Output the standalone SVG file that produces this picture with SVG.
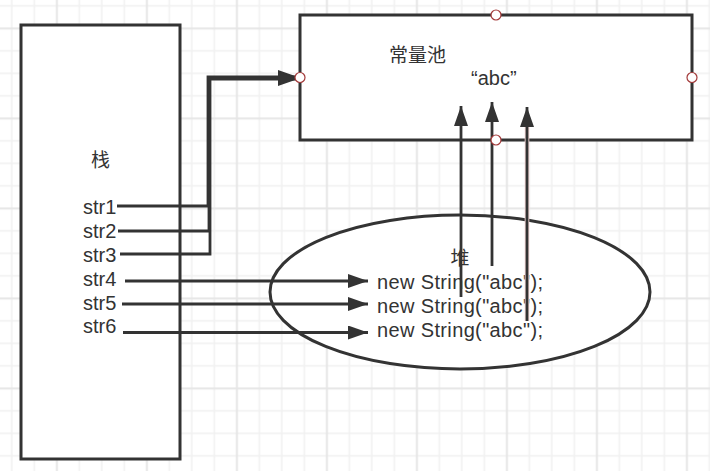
<svg xmlns="http://www.w3.org/2000/svg" width="710" height="471" viewBox="0 0 710 471">
  <defs>
    <pattern id="grid" patternUnits="userSpaceOnUse" x="-33.3" y="-61.7" width="90" height="90">
      <rect x="0" y="0" width="90" height="90" fill="#ffffff"/>
      <rect x="21.8" y="0" width="1.5" height="90" fill="#f1f1f1"/>
      <rect x="44.3" y="0" width="1.5" height="90" fill="#f1f1f1"/>
      <rect x="66.8" y="0" width="1.5" height="90" fill="#f1f1f1"/>
      <rect x="0" y="21.8" width="90" height="1.5" fill="#f1f1f1"/>
      <rect x="0" y="44.3" width="90" height="1.5" fill="#f1f1f1"/>
      <rect x="0" y="66.8" width="90" height="1.5" fill="#f1f1f1"/>
      <rect x="-0.8" y="0" width="2" height="90" fill="#e6e6e6"/>
      <rect x="0" y="-0.8" width="90" height="2" fill="#e6e6e6"/>
      <rect x="89.2" y="0" width="2" height="90" fill="#e6e6e6"/>
      <rect x="0" y="89.2" width="90" height="2" fill="#e6e6e6"/>
    </pattern>
    <marker id="arrow" viewBox="0 0 20 14" refX="20" refY="7" markerWidth="20" markerHeight="14" markerUnits="userSpaceOnUse" orient="auto">
      <path d="M0,0 L20,7 L0,14 Z" fill="#333333"/>
    </marker>
  </defs>
  <style>
    .box { fill: #ffffff; stroke: #333333; stroke-width: 3; }
    .edge { fill: none; stroke: #333333; stroke-width: 2.8; }
    .txt { font-family: "Liberation Sans", Arial, sans-serif; font-size: 20px; fill: #333333; }
    .cjk { font-family: "Noto Sans CJK SC", "Noto Sans", sans-serif; font-size: 19px; fill: #333333; }
    .port { fill: #ffffff; stroke: #a33a3a; stroke-width: 1.2; }
  </style>
  <rect x="0" y="0" width="710" height="471" fill="url(#grid)"/>

  <g id="stack">
    <rect class="box" x="21" y="25" width="159" height="434"/>
    <text class="cjk" x="100.5" y="167" text-anchor="middle">栈</text>
    <text class="txt" x="83" y="214">str1</text>
    <text class="txt" x="83" y="238">str2</text>
    <text class="txt" x="83" y="261.5">str3</text>
    <text class="txt" x="83" y="285.5">str4</text>
    <text class="txt" x="83" y="309.5">str5</text>
    <text class="txt" x="83" y="333">str6</text>
  </g>

  <g id="pool">
    <rect class="box" x="300" y="15" width="392" height="125"/>
    <text class="cjk" x="389" y="62">常量池</text>
    <text class="txt" x="471" y="85">“abc”</text>
  </g>

  <g id="heap">
    <ellipse class="box" cx="460" cy="292" rx="190" ry="77"/>
    <text class="cjk" x="460" y="265" text-anchor="middle">堆</text>
    <text class="txt" x="377" y="289" textLength="166" lengthAdjust="spacing">new String("abc");</text>
    <text class="txt" x="377" y="313" textLength="166" lengthAdjust="spacing">new String("abc");</text>
    <text class="txt" x="377" y="337" textLength="166" lengthAdjust="spacing">new String("abc");</text>
  </g>

  <g id="connectors">
    <path class="edge" d="M117,206 H208 V77 H298" marker-end="url(#arrow)"/>
    <path class="edge" d="M118,231 H209 V78 H298" marker-end="url(#arrow)"/>
    <path class="edge" d="M120,254 H210 V79 H298" marker-end="url(#arrow)"/>
    <path class="edge" d="M125,281 H368" marker-end="url(#arrow)"/>
    <path class="edge" d="M122,304 H368" marker-end="url(#arrow)"/>
    <path class="edge" d="M123,332.5 H368" marker-end="url(#arrow)"/>
    <path class="edge" d="M461,297 V106" marker-end="url(#arrow)"/>
    <path class="edge" d="M492,266 V102" marker-end="url(#arrow)"/>
    <path d="M527,321 V125" fill="none" stroke="#f0d4d4" stroke-width="4.6"/>
    <path class="edge" d="M527,321 V107" marker-end="url(#arrow)"/>
  </g>

  <g id="ports">
    <circle class="port" cx="496" cy="15" r="5"/>
    <circle class="port" cx="300" cy="77.5" r="5"/>
    <circle class="port" cx="692" cy="77.5" r="5"/>
    <circle class="port" cx="496" cy="140" r="5"/>
  </g>
</svg>
